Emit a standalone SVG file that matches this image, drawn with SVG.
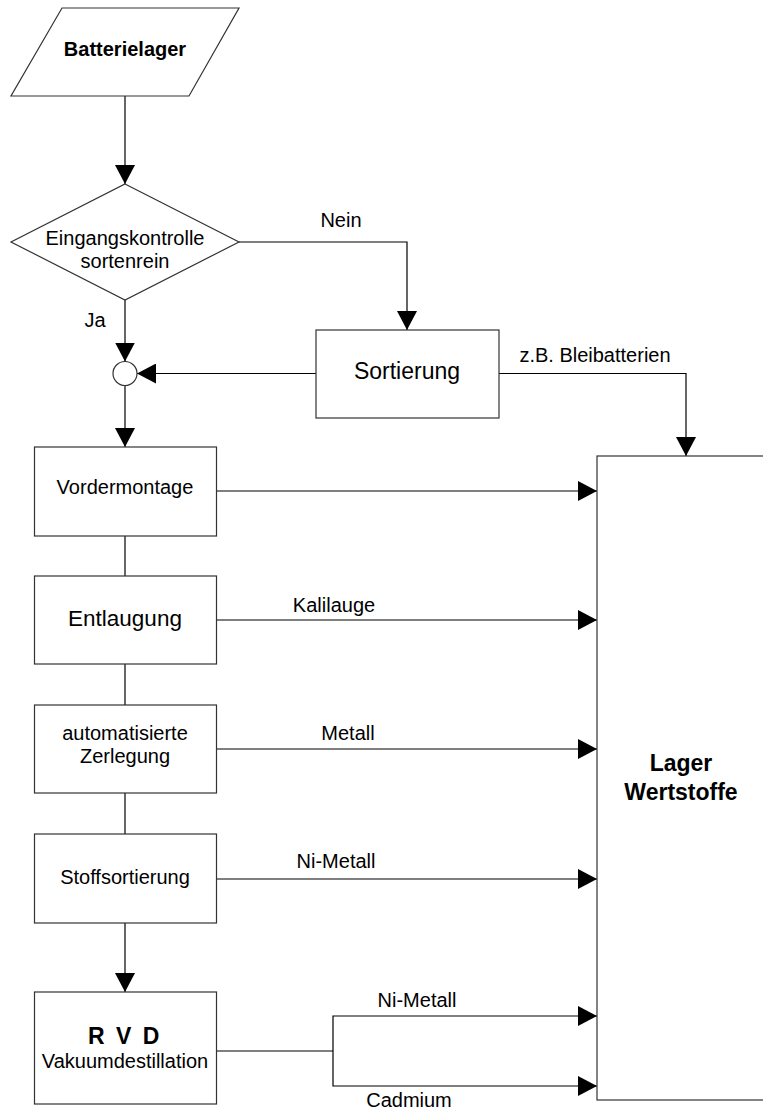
<svg xmlns="http://www.w3.org/2000/svg" width="763" height="1110" viewBox="0 0 763 1110">
<style>
  .shape { fill: #ffffff; stroke: #333333; stroke-width: 1.2; }
  .conn { fill: none; stroke: #000000; stroke-width: 1.2; }
  .arr { marker-end: url(#ah); }
  text { font-family: "Liberation Sans", Arial, sans-serif; fill: #000000; text-anchor: middle; }
  .t20 { font-size: 20px; }
  .b20 { font-size: 20px; font-weight: bold; }
  .lbl { font-size: 20px; }
</style>
<defs>
  <marker id="ah" markerUnits="userSpaceOnUse" markerWidth="20" markerHeight="20" refX="19" refY="10" orient="auto">
    <path d="M0,0 L19,10 L0,20 Z" fill="#000000"/>
  </marker>
</defs>
<rect width="763" height="1110" fill="#ffffff"/>

<g id="connectors">
  <line class="conn arr" x1="125" y1="96" x2="125" y2="184"/>
  <polyline class="conn arr" points="239,242 407,242 407,330"/>
  <line class="conn arr" x1="125" y1="300" x2="125" y2="361.5"/>
  <line class="conn arr" x1="316" y1="373.5" x2="137" y2="373.5"/>
  <line class="conn arr" x1="125" y1="385.5" x2="125" y2="447"/>
  <polyline class="conn arr" points="499,373.5 686,373.5 686,456"/>
  <line class="conn arr" x1="217" y1="491" x2="597" y2="491"/>
  <line class="conn" x1="125" y1="536" x2="125" y2="576"/>
  <line class="conn arr" x1="217" y1="620" x2="597" y2="620"/>
  <line class="conn" x1="125" y1="664" x2="125" y2="705"/>
  <line class="conn arr" x1="217" y1="749" x2="597" y2="749"/>
  <line class="conn" x1="125" y1="793" x2="125" y2="834"/>
  <line class="conn arr" x1="217" y1="879" x2="597" y2="879"/>
  <line class="conn arr" x1="125" y1="923" x2="125" y2="992"/>
  <line class="conn" x1="217" y1="1051" x2="333" y2="1051"/>
  <polyline class="conn arr" points="333,1051 333,1016 597,1016"/>
  <polyline class="conn arr" points="333,1051 333,1086 597,1086"/>
  <text class="lbl" x="341" y="227">Nein</text>
  <text class="lbl" x="95" y="327">Ja</text>
  <text class="lbl" x="595" y="362">z.B. Bleibatterien</text>
  <text class="lbl" x="334" y="612">Kalilauge</text>
  <text class="lbl" x="348" y="740">Metall</text>
  <text class="lbl" x="336" y="868">Ni-Metall</text>
  <text class="lbl" x="417" y="1007">Ni-Metall</text>
  <text class="lbl" x="409" y="1107">Cadmium</text>
</g>

<g id="batterielager">
  <polygon class="shape" points="62,8 239,8 189,96 11,96"/>
  <text class="b20" x="125" y="56">Batterielager</text>
</g>

<g id="eingangskontrolle">
  <polygon class="shape" points="125,184 239,242 125,300 11,242"/>
  <text class="t20" x="125" y="245">Eingangskontrolle</text>
  <text class="t20" x="125" y="268">sortenrein</text>
</g>

<g id="zusammenfuehrung">
  <circle class="shape" cx="125" cy="373.5" r="12"/>
</g>

<g id="sortierung">
  <rect class="shape" x="316" y="330" width="183" height="88"/>
  <text x="407" y="379" font-size="23">Sortierung</text>
</g>

<g id="vordermontage">
  <rect class="shape" x="34.5" y="447" width="182" height="89"/>
  <text class="t20" x="125" y="494">Vordermontage</text>
</g>

<g id="entlaugung">
  <rect class="shape" x="34.5" y="576" width="182" height="88"/>
  <text x="125" y="626" font-size="22.5">Entlaugung</text>
</g>

<g id="zerlegung">
  <rect class="shape" x="34.5" y="705" width="182" height="88"/>
  <text class="t20" x="125" y="740">automatisierte</text>
  <text class="t20" x="125" y="763">Zerlegung</text>
</g>

<g id="stoffsortierung">
  <rect class="shape" x="34.5" y="834" width="182" height="89"/>
  <text class="t20" x="125" y="884">Stoffsortierung</text>
</g>

<g id="rvd">
  <rect class="shape" x="34.5" y="992" width="182" height="112"/>
  <text x="125" y="1044" font-size="23" font-weight="bold" letter-spacing="2.5">R V D</text>
  <text class="t20" x="125" y="1068">Vakuumdestillation</text>
</g>

<g id="lager">
  <rect class="shape" x="597" y="456" width="190" height="644"/>
  <text x="681" y="771" font-size="23" font-weight="bold">Lager</text>
  <text x="681" y="800" font-size="23" font-weight="bold">Wertstoffe</text>
</g>
</svg>
